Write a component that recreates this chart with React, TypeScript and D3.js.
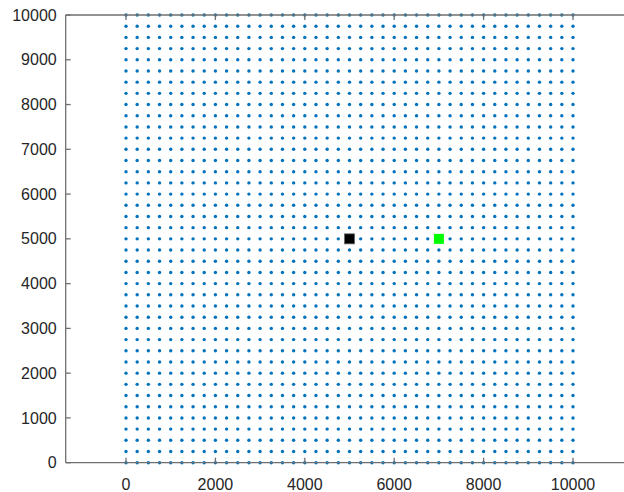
import React from "react";
import * as d3 from "d3";

const gridX: number[] = d3.range(0, 10001, 250);
const gridY: number[] = d3.range(0, 10001, 250);
const xTicks = [0, 2000, 4000, 6000, 8000, 10000];
const yTicks = [0, 1000, 2000, 3000, 4000, 5000, 6000, 7000, 8000, 9000, 10000];
const blackPoint = [{ x: 5000, y: 5000 }];
const greenPoint = [{ x: 7000, y: 5000 }];

export default function App() {
  const W = 624, H = 492;
  const x = d3.scaleLinear().domain([0, 10000]).range([126, 573]);
  const y = d3.scaleLinear().domain([0, 10000]).range([462.7, 15]);
  const left = 65.7, right = 630, top = y(10000), bottom = y(0);
  const axisColor = "#6f6f6f";
  const textColor = "#262626";
  const font = "'Liberation Sans', Arial, Helvetica, sans-serif";
  const dots: { x: number; y: number }[] = [];
  gridX.forEach((gx) => gridY.forEach((gy) => dots.push({ x: gx, y: gy })));
  return (
    <svg width={W} height={H} style={{ position: "absolute", left: 0, top: 0, background: "#fff" }}>
      {dots.map((d, i) => (
        <circle key={i} cx={x(d.x)} cy={y(d.y)} r={1.7} fill="#0072BD" />
      ))}
      {blackPoint.map((d, i) => (
        <rect key={"b" + i} x={x(d.x) - 5} y={y(d.y) - 5} width={10} height={10} fill="#000" stroke="#666" strokeWidth={0.8} />
      ))}
      {greenPoint.map((d, i) => (
        <rect key={"g" + i} x={x(d.x) - 5} y={y(d.y) - 5} width={10} height={10} fill="#00ff00" />
      ))}
      <g stroke={axisColor} strokeWidth={1.3} fill="none">
        <line x1={left} y1={bottom} x2={right} y2={bottom} />
        <line x1={left} y1={top} x2={right} y2={top} />
        <line x1={left} y1={top} x2={left} y2={bottom} />
        {xTicks.map((t) => (
          <g key={"xt" + t}>
            <line x1={x(t)} x2={x(t)} y1={bottom} y2={bottom - 5} />
            <line x1={x(t)} x2={x(t)} y1={top} y2={top + 5} />
          </g>
        ))}
        {yTicks.map((t) => (
          <line key={"yt" + t} x1={left} x2={left + 5} y1={y(t)} y2={y(t)} />
        ))}
      </g>
      <g fill={textColor} fontFamily={font} fontSize={16}>
        {xTicks.map((t) => (
          <text key={"xl" + t} x={x(t)} y={bottom + 27} textAnchor="middle">
            {t}
          </text>
        ))}
        {yTicks.map((t) => (
          <text key={"yl" + t} x={left - 9} y={y(t)} dy="0.35em" textAnchor="end">
            {t}
          </text>
        ))}
      </g>
    </svg>
  );
}
